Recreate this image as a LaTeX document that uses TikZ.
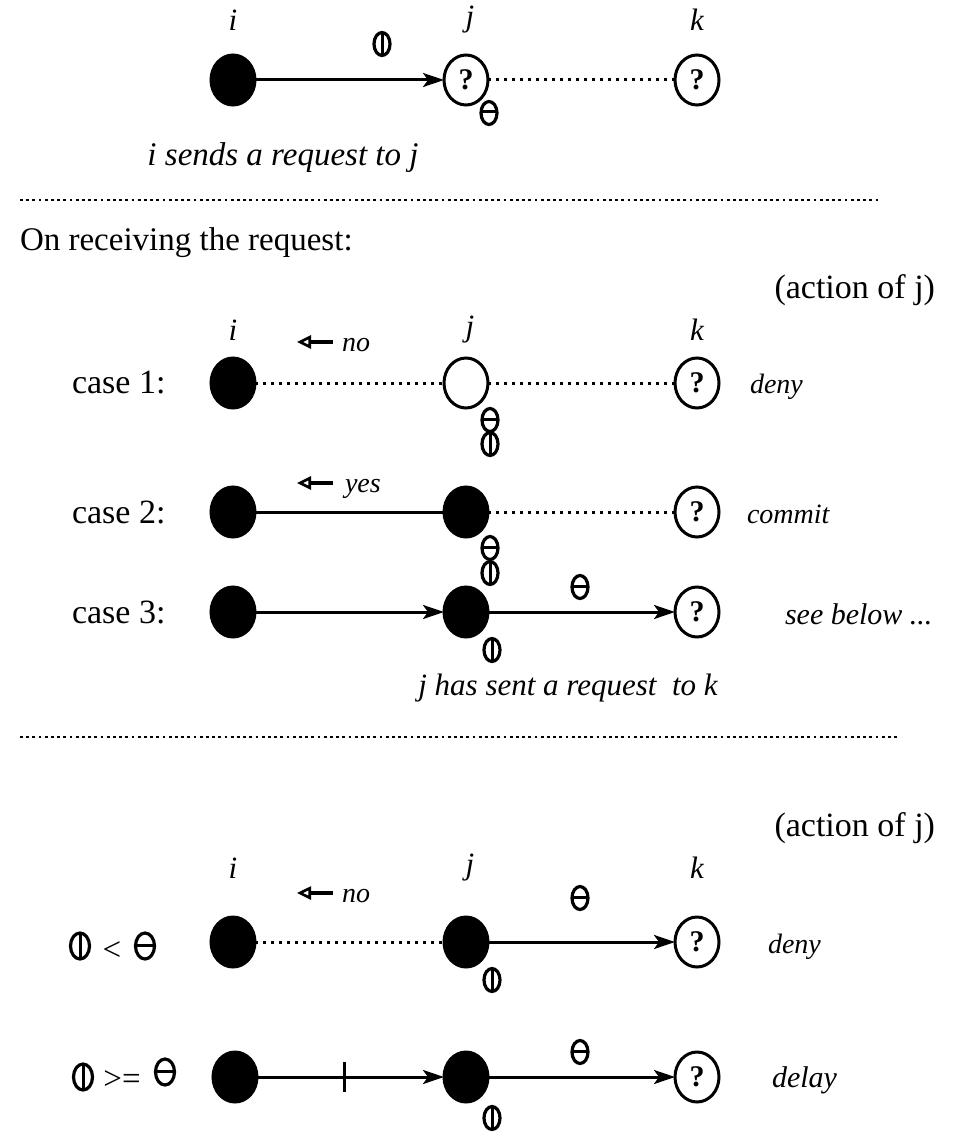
\documentclass[tikz,border=0pt]{standalone}
\usepackage{fontspec}
\setmainfont{Liberation Serif}
\usetikzlibrary{shapes.geometric,arrows.meta}

\begin{document}
\begin{tikzpicture}[x=1pt,y=-1pt,
  every node/.style={inner sep=0pt,outer sep=0pt},
  proc/.style={ellipse,draw,line width=3pt,minimum width=44pt,minimum height=50pt},
  busy/.style={proc,fill=black},
  idle/.style={proc,fill=white,font=\fontsize{30}{30}\selectfont\bfseries},
  lbl/.style={font=\fontsize{31}{31}\selectfont\itshape},
  captiontext/.style={font=\fontsize{33}{33}\selectfont\itshape},
  big/.style={font=\fontsize{33}{33}\selectfont},
  act/.style={font=\fontsize{28}{28}\selectfont\itshape,anchor=west},
  sym/.style={ellipse,draw,line width=3.2pt,minimum width=16pt,minimum height=23pt},
  bigsym/.style={sym,minimum width=19pt,minimum height=26pt},
  phi/.style={path picture={\draw[line width=3pt]
      (path picture bounding box.north) -- (path picture bounding box.south);}},
  theta/.style={path picture={\draw[line width=3pt]
      ([yshift=1pt]path picture bounding box.west) -- ([yshift=1pt]path picture bounding box.east);}},
  link/.style={line width=3pt},
  msg/.style={link,-{Stealth[length=21pt,width=14pt,inset=5pt]}},
  wait/.style={line width=3pt,dash pattern=on 3pt off 5pt},
  reply/.style={line width=3.6pt,-{Triangle[open,length=14pt,width=13pt,line width=2.6pt]}},
  sep/.style={line width=2.8pt,dash pattern=on 2.8pt off 3.4pt}
]
\useasboundingbox (0,0) rectangle (954,1134);

% ---------- i sends a request to j ----------
\node[busy] (ia) at (233,80) {};
\node[idle] (ja) at (466,80) {?};
\node[idle] (ka) at (697,80) {?};
\node[lbl] (lia) at (233,20) {i};
\node[lbl] (lja) at (470,20) {j};
\node[lbl] (lka) at (697,20) {k};
\draw[msg] (ia) -- (ja);
\draw[wait] (ja) -- (ka);
\node[sym,phi] (pa) at (382,44) {};
\node[sym,theta] (ta) at (489,113) {};
\node[captiontext] (capa) at (283,158) {i sends a request to j};

\coordinate (s1a) at (20,200);
\coordinate (s1b) at (880,200);
\draw[sep] (s1a) -- (s1b);

\node[big,anchor=west] (recv) at (20,243) {On receiving the request:};
\node[big,anchor=east,font=\fontsize{34}{34}\selectfont] (act1) at (935,290) {(action of j)};

% ---------- case 1 ----------
\node[big,anchor=west,font=\fontsize{34}{34}\selectfont] (c1) at (72,383) {case 1:};
\node[busy] (ib) at (233,383) {};
\node[proc] (jb) at (466,383) {};
\node[idle] (kb) at (697,383) {?};
\node[lbl] (lib) at (233,330) {i};
\node[lbl] (ljb) at (470,330) {j};
\node[lbl] (lkb) at (697,330) {k};
\draw[wait] (ib) -- (jb);
\draw[wait] (jb) -- (kb);
\coordinate (rb1) at (333,342);
\coordinate (rb2) at (297,342);
\draw[reply] (rb1) -- (rb2);
\node[lbl,anchor=west,font=\fontsize{28}{28}\selectfont\itshape] (nob) at (342,345) {no};
\node[sym,theta] (tb) at (490,420) {};
\node[sym,phi] (pb) at (490,444) {};
\node[act] (db) at (750,387) {deny};

% ---------- case 2 ----------
\node[big,anchor=west,font=\fontsize{34}{34}\selectfont] (c2) at (72,512) {case 2:};
\node[busy] (ic) at (233,512) {};
\node[busy] (jc) at (466,512) {};
\node[idle] (kc) at (697,512) {?};
\draw[link] (ic) -- (jc);
\draw[wait] (jc) -- (kc);
\coordinate (rc1) at (333,483);
\coordinate (rc2) at (297,483);
\draw[reply] (rc1) -- (rc2);
\node[lbl,anchor=west,font=\fontsize{28}{28}\selectfont\itshape] (yc) at (345,489) {yes};
\node[sym,theta] (tc) at (490,548) {};
\node[sym,phi] (pc) at (490,573) {};
\node[act] (dc) at (747,514) {commit};

% ---------- case 3 ----------
\node[big,anchor=west,font=\fontsize{34}{34}\selectfont] (c3) at (72,612) {case 3:};
\node[busy] (id) at (233,612) {};
\node[busy] (jd) at (466,612) {};
\node[idle] (kd) at (697,612) {?};
\draw[msg] (id) -- (jd);
\draw[msg] (jd) -- (kd);
\node[sym,theta] (td) at (580,587) {};
\node[sym,phi] (pd) at (492,650) {};
\node[act,font=\fontsize{30}{30}\selectfont\itshape] (dd) at (785,614) {see below ...};
\node[captiontext,font=\fontsize{31}{31}\selectfont\itshape] (capd) at (568,688) {j has sent a request\ \ to k};

\coordinate (s2a) at (20,737);
\coordinate (s2b) at (900,737);
\draw[sep] (s2a) -- (s2b);

\node[big,anchor=east,font=\fontsize{34}{34}\selectfont] (act2) at (935,828) {(action of j)};

% ---------- lower priority: deny ----------
\node[bigsym,phi] (pl1) at (80,946) {};
\node[big] (lt) at (112,951) {<};
\node[bigsym,theta] (tl1) at (145,946) {};
\node[busy] (ie) at (233,942) {};
\node[busy] (je) at (466,942) {};
\node[idle] (ke) at (697,942) {?};
\node[lbl] (lie) at (233,868) {i};
\node[lbl] (lje) at (470,868) {j};
\node[lbl] (lke) at (697,868) {k};
\draw[wait] (ie) -- (je);
\draw[msg] (je) -- (ke);
\coordinate (re1) at (333,893);
\coordinate (re2) at (297,893);
\draw[reply] (re1) -- (re2);
\node[lbl,anchor=west,font=\fontsize{28}{28}\selectfont\itshape] (noe) at (342,896) {no};
\node[sym,theta] (te) at (580,898) {};
\node[sym,phi] (pe) at (492,980) {};
\node[act] (de) at (768,947) {deny};

% ---------- higher priority: delay ----------
\node[bigsym,phi] (pl2) at (83,1077) {};
\node[big] (ge) at (122,1080) {>=};
\node[bigsym,theta] (tl2) at (165,1072) {};
\node[busy] (if) at (235,1077) {};
\node[busy] (jf) at (466,1077) {};
\node[idle] (kf) at (697,1077) {?};
\draw[msg] (if) -- coordinate[pos=0.47] (tick) (jf);
\draw[link] ([yshift=-15pt]tick) -- ([yshift=15pt]tick);
\draw[msg] (jf) -- (kf);
\node[sym,theta] (tf) at (580,1052) {};
\node[sym,phi] (pf) at (492,1118) {};
\node[act,font=\fontsize{30}{30}\selectfont\itshape] (df) at (772,1080) {delay};
\end{tikzpicture}
\end{document}
